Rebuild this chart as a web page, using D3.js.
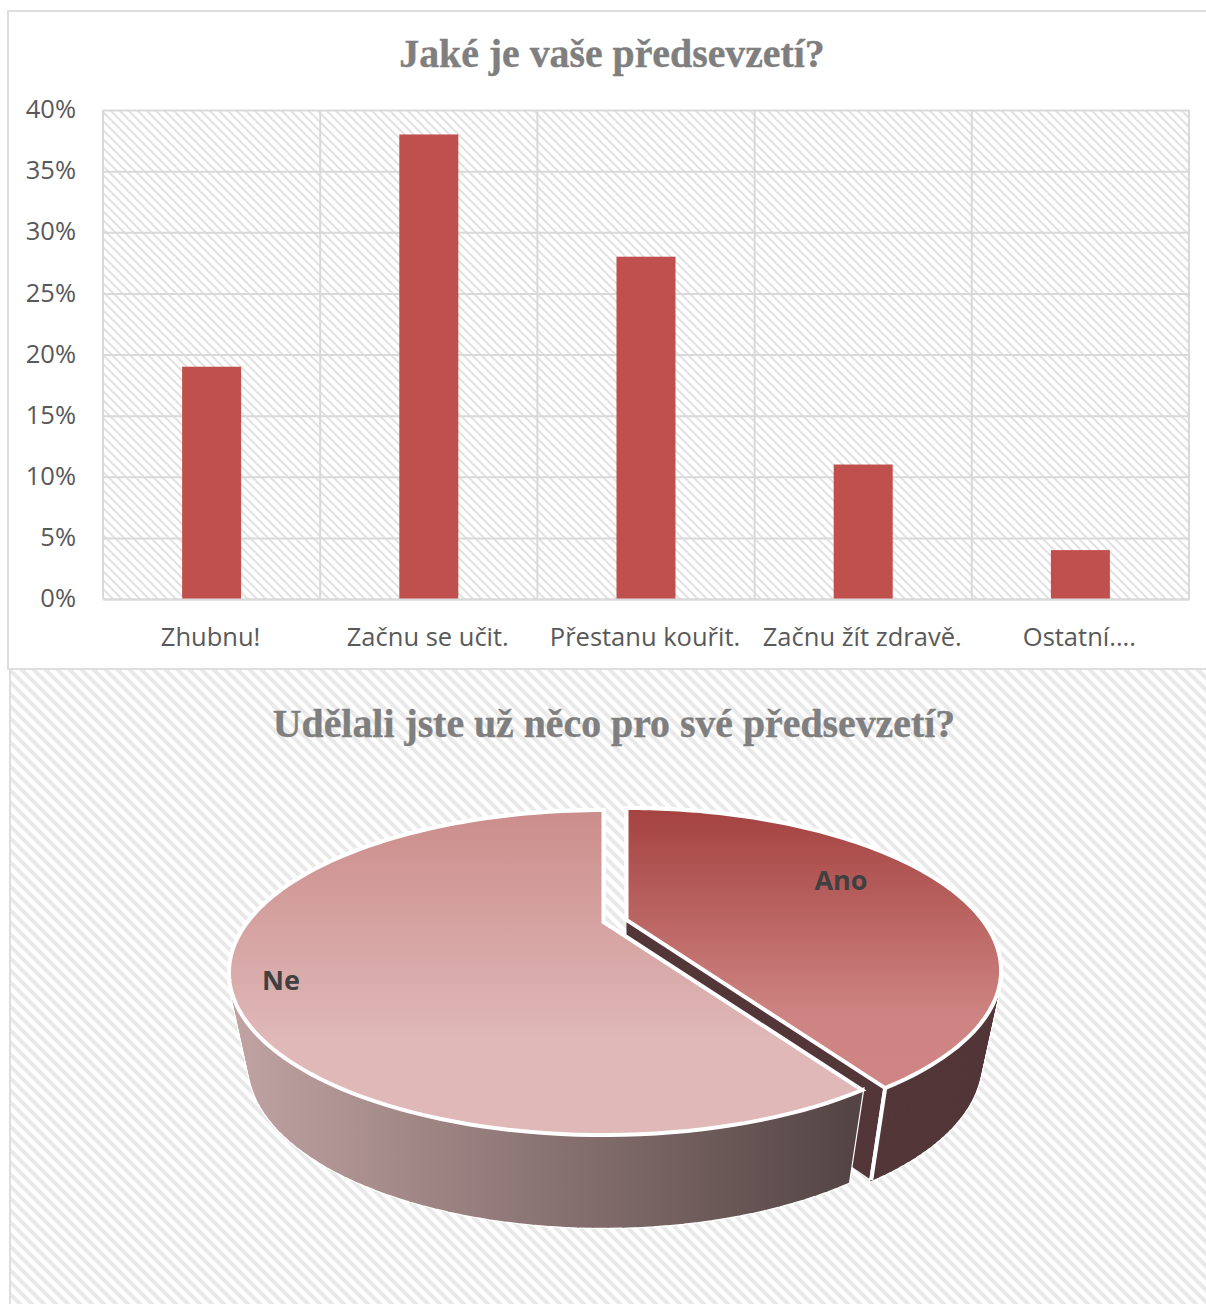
<!DOCTYPE html>
<html>
<head>
<meta charset="utf-8">
<script src="https://cdnjs.cloudflare.com/ajax/libs/d3/7.8.5/d3.min.js"></script>
<style>
  html, body { margin: 0; padding: 0; background: #fff; overflow: hidden; }
  svg { display: block; }
  text { font-family: "Open Sans", sans-serif; }
  .title { font-family: "Liberation Serif", serif; font-weight: bold; fill: #7f7f7f; font-size: 39.8px; text-anchor: middle; stroke: #7f7f7f; stroke-width: 0.4px; }
  .tick-label { fill: #595959; font-size: 25.5px; }
  .pie-label { fill: #404040; font-size: 27px; font-weight: bold; text-anchor: middle; }
</style>
</head>
<body>
<script>
"use strict";
// bar chart data
var barTitle = "Jaké je vaše předsevzetí?";
var barCategories = ["Zhubnu!", "Začnu se učit.", "Přestanu kouřit.", "Začnu žít zdravě.", "Ostatní...."];
var barValues = [19, 38, 28, 11, 4];
var barTicks = [0, 5, 10, 15, 20, 25, 30, 35, 40];

// pie chart data
var pieTitle = "Udělali jste už něco pro své předsevzetí?";
var pieLabels = ["Ano", "Ne"];
var pieValues = [41, 59];

var width = 1206, height = 1304;
var svg = d3.select("body").append("svg").attr("width", width).attr("height", height);
var defs = svg.append("defs");

function hatch(id, size, sw, color) {
  var p = defs.append("pattern")
    .attr("id", id)
    .attr("patternUnits", "userSpaceOnUse")
    .attr("width", size).attr("height", size);
  p.append("rect").attr("width", size).attr("height", size).attr("fill", "#fff");
  p.append("path")
    .attr("d", "M" + (-size) + ",0L" + (2 * size) + "," + (3 * size) + "M0," + (-size) + "L" + (2 * size) + "," + size + "M" + (-size) + "," + (-size) + "L" + size + "," + size)
    .attr("stroke", color).attr("stroke-width", sw).attr("fill", "none");
}
hatch("hatchBar", 9, 2, "#e2e2e2");
hatch("hatchPie", 12, 4, "#e9e9e9");

function gradient(id, x1, y1, x2, y2, stops) {
  var g = defs.append("linearGradient")
    .attr("id", id)
    .attr("gradientUnits", "userSpaceOnUse")
    .attr("x1", x1).attr("y1", y1).attr("x2", x2).attr("y2", y2);
  stops.forEach(function(s) {
    g.append("stop").attr("offset", s[0]).attr("stop-color", s[1]);
  });
}
gradient("anoTop", 0, 808, 0, 1085, [[0, "#a44240"], [0.75, "#ce8482"], [1, "#ce8583"]]);
gradient("neTop", 0, 810, 0, 1040, [[0, "#cb8d8b"], [1, "#dfb8b7"]]);
gradient("neWall", 240, 0, 850, 0, [[0, "#bfa2a1"], [1, "#544544"]]);

// ---- bar chart ----
svg.append("rect")
  .attr("x", 8).attr("y", 11).attr("width", width + 10).attr("height", 658)
  .attr("fill", "#fff").attr("stroke", "#dedede").attr("stroke-width", 2);

svg.append("text").attr("class", "title")
  .attr("x", 612).attr("y", 67).text(barTitle);

var plot = {left: 103, right: 1189, top: 110, bottom: 599};
var x = d3.scaleBand().domain(barCategories).range([plot.left, plot.right]);
var y = d3.scaleLinear().domain([0, 40]).range([plot.bottom, plot.top]);
var barWidth = 59;

svg.append("rect")
  .attr("x", plot.left).attr("y", plot.top)
  .attr("width", plot.right - plot.left).attr("height", plot.bottom - plot.top)
  .attr("fill", "url(#hatchBar)");

var yAxis = d3.axisLeft(y).tickValues(barTicks)
  .tickSize(plot.left - plot.right).tickPadding(27)
  .tickFormat(function(d) { return d + "%"; });
var yg = svg.append("g").attr("transform", "translate(" + plot.left + ",0)").call(yAxis);
yg.select(".domain").remove();
yg.selectAll("line").attr("stroke", "#d9d9d9").attr("stroke-width", 2);
yg.selectAll("text").attr("class", "tick-label").attr("dy", "0.3em");

// vertical gridlines on the band edges
svg.append("g").selectAll("line")
  .data(barCategories.map(function(d) { return x(d); }).concat([plot.right]))
  .enter().append("line")
  .attr("x1", function(d) { return d; }).attr("x2", function(d) { return d; })
  .attr("y1", plot.top).attr("y2", plot.bottom)
  .attr("stroke", "#d9d9d9").attr("stroke-width", 2);

svg.append("g").selectAll("rect")
  .data(barValues)
  .enter().append("rect")
  .attr("x", function(d, i) { return x(barCategories[i]) + x.bandwidth() / 2 - barWidth / 2; })
  .attr("y", function(d) { return y(d); })
  .attr("width", barWidth)
  .attr("height", function(d) { return y(0) - y(d); })
  .attr("fill", "#c0504d");

var xAxis = d3.axisBottom(x).tickSize(0).tickPadding(29);
var xg = svg.append("g").attr("transform", "translate(-1," + plot.bottom + ")").call(xAxis);
xg.select(".domain").attr("transform", "translate(1,0)").attr("stroke", "#d9d9d9").attr("stroke-width", 2);
xg.selectAll("text").attr("class", "tick-label").attr("text-anchor", "middle");

// ---- 3D pie chart ----
svg.append("rect")
  .attr("x", 11).attr("y", 670).attr("width", width).attr("height", height - 670)
  .attr("fill", "url(#hatchPie)");
svg.append("line")
  .attr("x1", 10).attr("x2", 10).attr("y1", 669).attr("y2", height)
  .attr("stroke", "#dedede").attr("stroke-width", 2);

svg.append("text").attr("class", "title")
  .attr("x", 614).attr("y", 737).text(pieTitle);

// perspective of the pie disc: near rim lower and wider than the far rim
var persp = {k: 0.311, a: 146.8, r: 356, depth: 92, shrink: 0.946};

function project(theta, c, bottom) {
  var u = Math.sin(theta), v = -Math.cos(theta);
  var w = 1 - persp.k * v;
  var px = persp.r * u / w, py = persp.a * v / w;
  if (bottom) return [c[0] + px * persp.shrink, c[1] + py + persp.depth];
  return [c[0] + px, c[1] + py];
}

function arcPoints(a0, a1, c, bottom) {
  return d3.range(0, 121).map(function(i) {
    return project(a0 + (a1 - a0) * i / 120, c, bottom);
  });
}

var arcs = d3.pie().sort(null)(pieValues);
var centers = [[626.5, 920], [603.5, 922]];
var line = d3.line();

function topPath(arc, c) {
  return line([c].concat(arcPoints(arc.startAngle, arc.endAngle, c, false))) + "Z";
}
function cutPath(theta, c) {
  return line([c, project(theta, c, false), project(theta, c, true), [c[0], c[1] + persp.depth]]) + "Z";
}

// the outer wall is drawn as a strip of quads so its silhouette follows the
// tangent between the top and bottom rims, with a white halo underneath
function wallQuads(arc, c) {
  var top = arcPoints(arc.startAngle, arc.endAngle, c, false);
  var bot = arcPoints(arc.startAngle, arc.endAngle, c, true);
  return d3.range(0, top.length - 1).map(function(i) {
    return line([top[i], top[i + 1], bot[i + 1], bot[i]]) + "Z";
  });
}
function drawWall(parent, arc, c, fill) {
  var quads = wallQuads(arc, c);
  parent.append("g").attr("fill", "#fff").attr("stroke", "#fff").attr("stroke-width", 4)
    .selectAll("path").data(quads).enter().append("path").attr("d", function(d) { return d; });
  parent.append("g").attr("fill", fill).attr("stroke", fill).attr("stroke-width", 1.6)
    .selectAll("path").data(quads).enter().append("path").attr("d", function(d) { return d; });
}
function edgeLine(parent, theta, c) {
  var a = project(theta, c, false), b = project(theta, c, true);
  parent.append("path").attr("d", line([a, b]))
    .attr("stroke", "#fff").attr("stroke-width", 4).attr("fill", "none");
}

var pieG = svg.append("g");
var topStyle = function(sel) { sel.attr("stroke", "#fff").attr("stroke-width", 4); };

// Ano first, Ne sits in front of its cut face
pieG.append("path").attr("d", cutPath(arcs[0].endAngle, centers[0])).attr("fill", "#533638");
drawWall(pieG, arcs[0], centers[0], "#533638");
edgeLine(pieG, arcs[0].endAngle, centers[0]);
pieG.append("path").attr("d", topPath(arcs[0], centers[0])).attr("fill", "url(#anoTop)").call(topStyle);
drawWall(pieG, arcs[1], centers[1], "url(#neWall)");
pieG.append("path").attr("d", topPath(arcs[1], centers[1])).attr("fill", "url(#neTop)").call(topStyle);

var labelPos = [[841, 890], [281, 990]];
svg.append("g").selectAll("text")
  .data(pieLabels)
  .enter().append("text")
  .attr("class", "pie-label")
  .attr("x", function(d, i) { return labelPos[i][0]; })
  .attr("y", function(d, i) { return labelPos[i][1]; })
  .text(function(d) { return d; });
</script>
</body>
</html>
